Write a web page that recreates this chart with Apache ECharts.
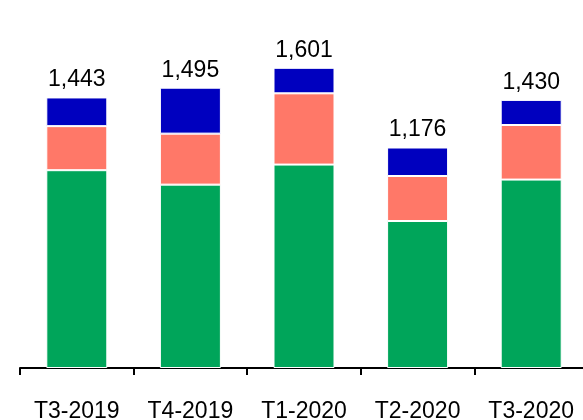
<!DOCTYPE html>
<html>
<head>
<meta charset="utf-8">
<script src="https://cdn.jsdelivr.net/npm/echarts@6/dist/echarts.min.js"></script>
<style>
  html, body { margin: 0; padding: 0; background: #fff; overflow: hidden; }
  #chart { width: 600px; height: 420px; }
</style>
</head>
<body>
<div id="chart"></div>
<script>
var categories = ["T3-2019", "T4-2019", "T1-2020", "T2-2020", "T3-2020"];
var greenData = [1055, 978, 1085, 784, 1005];
var salmonData = [235, 272, 380, 240, 291];
var blueData = [153, 245, 136, 152, 134];
var totals = [1443, 1495, 1601, 1176, 1430];

// the chart is cut on the right in the original, so the canvas runs past the window
var myecharts = echarts.init(document.getElementById("chart"));

function seg(name, data, color) {
  return {
    name: name,
    type: "bar",
    stack: "total",
    barWidth: 61,
    data: data,
    itemStyle: { color: color, borderColor: "#fff", borderWidth: 1 }
  };
}

// totals sit on top of the blue segment
var blueSeries = seg("c", blueData, "#0000bf");
blueSeries.label = {
  show: true,
  position: "top",
  distance: 6,
  color: "#000",
  fontFamily: "Liberation Sans, Arial, sans-serif",
  fontSize: 23,
  formatter: function (p) {
    return totals[p.dataIndex].toLocaleString("en-US");
  }
};

myecharts.setOption({
  animation: false,
  grid: { left: 20, width: 568, top: 8, height: 360, outerBoundsMode: "none", containLabel: false },
  xAxis: {
    type: "category",
    data: categories,
    axisLine: { lineStyle: { color: "#000", width: 2 } },
    axisTick: { show: true, length: 7, lineStyle: { color: "#000", width: 2 } },
    axisLabel: {
      color: "#000",
      fontFamily: "Liberation Sans, Arial, sans-serif",
      fontSize: 23,
      margin: 32
    }
  },
  yAxis: { type: "value", min: 0, max: 1920, show: false },
  series: [
    seg("a", greenData, "#00a55a"),
    seg("b", salmonData, "#ff7868"),
    blueSeries
  ]
});
</script>
</body>
</html>
